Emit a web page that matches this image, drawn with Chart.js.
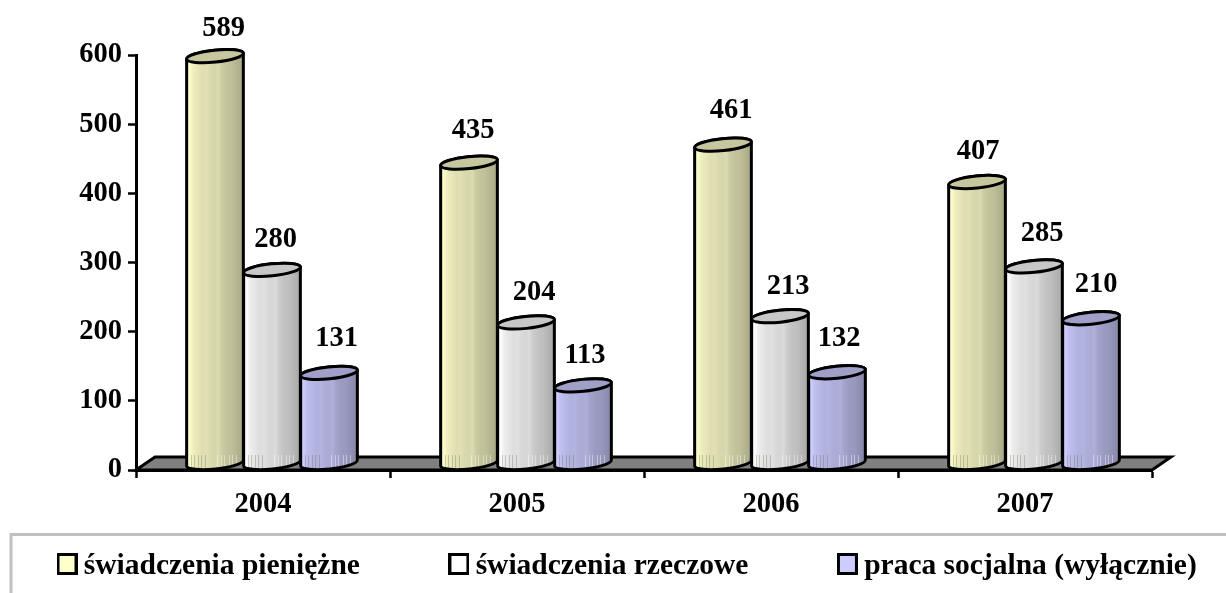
<!DOCTYPE html>
<html><head><meta charset="utf-8">
<style>html,body{margin:0;padding:0;background:#fff}#wrap{width:1226px;height:593px}</style>
<script src="https://cdn.jsdelivr.net/npm/chart.js@4"></script>
</head><body><div id="wrap"><canvas id="c" width="1226" height="593"></canvas></div>
<script>
const categories = ['2004', '2005', '2006', '2007'];
const seriesNames = ['świadczenia pieniężne', 'świadczenia rzeczowe', 'praca socjalna (wyłącznie)'];
const cash = [589, 435, 461, 407];
const inKind = [280, 204, 213, 285];
const socialWork = [131, 113, 132, 210];
const yTicks = [0, 100, 200, 300, 400, 500, 600];

const FONT = '"Liberation Serif","Times New Roman",serif';
const FONT_SIZE = 28.5;
const LEGEND_FONT_SIZE = 29.5;
const lightColors = [[255,255,204],[255,255,255],[204,204,255]];
const hex = c => 'rgb(' + c.join(',') + ')';
const DEPTH_X = 9, DEPTH_Y = 6.5, FLOOR_X = 19, FLOOR_Y = 13;
const RY = 6, ROT = -6 * Math.PI / 180;
const bands = [[0,1],[.06,.99],[.12,.93],[.2,.9],[.28,.87],[.36,.88],[.42,.85],[.5,.84],[.56,.86],[.62,.8],[.72,.76],[.8,.75],[.88,.71],[1,.66]];
const labelNudgeX = [[8.5,3.5,7.5],[4,8,2],[8,8,2],[1,8,5]];
const labelNudgeY = [[4.5,1.5,-2.5],[0,1.5,1.5],[-2.5,1.5,-2.5],[1.5,-1.5,-2.5]];

function shade(c, k) { return hex(c.map(v => Math.round(v * k))); }

function swatch(color) {
  const s = document.createElement('canvas');
  s.width = 21; s.height = 26;
  const x = s.getContext('2d');
  x.fillStyle = color; x.fillRect(1.5, 1.5, 18, 19);
  x.strokeStyle = '#000'; x.lineWidth = 3; x.strokeRect(1.5, 1.5, 18, 19);
  return s;
}

function drawCylinder(ctx, el, color) {
  const cx = el.x + DEPTH_X, top = el.y - DEPTH_Y, base = el.base - DEPTH_Y, rx = el.width / 2;
  const g = ctx.createLinearGradient(cx - rx, 0, cx + rx, 0);
  bands.forEach(([p, k]) => g.addColorStop(p, shade(color, k)));
  const body = new Path2D();
  body.ellipse(cx, base, rx, RY, ROT, 0, Math.PI);
  body.ellipse(cx, top, rx, RY, ROT, Math.PI, Math.PI * 2);
  body.closePath();
  ctx.save();
  ctx.lineWidth = 3; ctx.strokeStyle = '#000'; ctx.lineJoin = 'round';
  ctx.fillStyle = g; ctx.fill(body);
  // faint ribs near the foot of the column
  ctx.save(); ctx.clip(body);
  ctx.lineWidth = 1;
  [.08,.14,.2,.26,.32,.54,.6,.66,.74,.8,.86].forEach(p => {
    ctx.strokeStyle = p < .4 ? 'rgba(90,90,70,.28)' : 'rgba(255,255,255,.4)';
    const x = Math.round(cx - rx + p * 2 * rx) + .5;
    ctx.beginPath(); ctx.moveTo(x, base - 8); ctx.lineTo(x, base + 8); ctx.stroke();
  });
  ctx.restore();
  ctx.stroke(body);
  ctx.beginPath();
  ctx.ellipse(cx, top, rx, RY, ROT, 0, Math.PI * 2);
  ctx.fillStyle = shade(color, .78); ctx.fill(); ctx.stroke();
  ctx.restore();
}

const cylinders = {
  id: 'cylinders',
  beforeDatasetsDraw(chart) {
    const { ctx, chartArea: a } = chart;
    ctx.save();
    ctx.beginPath();
    ctx.moveTo(a.left, a.bottom);
    ctx.lineTo(a.left + FLOOR_X, a.bottom - FLOOR_Y);
    ctx.lineTo(a.right + FLOOR_X, a.bottom - FLOOR_Y);
    ctx.lineTo(a.right, a.bottom);
    ctx.closePath();
    ctx.fillStyle = '#808080'; ctx.fill();
    ctx.lineWidth = 3; ctx.lineJoin = 'miter'; ctx.strokeStyle = '#000'; ctx.stroke();
    ctx.restore();
  },
  beforeDatasetDraw() { return false; },
  afterDatasetsDraw(chart) {
    const { ctx } = chart;
    const n = chart.data.labels.length;
    for (let c = 0; c < n; c++) {
      chart.data.datasets.forEach((ds, i) => {
        drawCylinder(ctx, chart.getDatasetMeta(i).data[c], lightColors[i]);
      });
    }
    ctx.save();
    ctx.font = 'bold ' + FONT_SIZE + 'px ' + FONT;
    ctx.fillStyle = '#000'; ctx.textAlign = 'center'; ctx.textBaseline = 'middle';
    for (let c = 0; c < n; c++) {
      chart.data.datasets.forEach((ds, i) => {
        const el = chart.getDatasetMeta(i).data[c];
        ctx.fillText(String(ds.data[c]), el.x + DEPTH_X + labelNudgeX[c][i], el.y - DEPTH_Y - 31.5 + labelNudgeY[c][i]);
      });
    }
    ctx.restore();
  }
};

const legendFrame = {
  id: 'legendFrame',
  afterLayout(chart) {
    const lg = chart.legend;
    const gap = 97;
    lg.options = {
      display: true, position: 'bottom', align: 'start', rtl: false, textDirection: 'ltr',
      title: { display: false },
      labels: {
        usePointStyle: true, pointStyleWidth: 4, boxWidth: 4, boxHeight: LEGEND_FONT_SIZE, padding: gap, color: '#000',
        font: { family: FONT, size: LEGEND_FONT_SIZE, weight: 'bold' },
        generateLabels: c => Chart.defaults.plugins.legend.labels.generateLabels(c)
      }
    };
    lg.left = 65 - gap;
    lg.right = 4000;
    lg.top = 566 - LEGEND_FONT_SIZE / 2 - gap;
  },
  beforeDraw(chart) {
    const { ctx, width, height } = chart;
    ctx.save();
    ctx.strokeStyle = '#C0C0C0'; ctx.lineWidth = 3;
    ctx.beginPath();
    ctx.moveTo(11, height);
    ctx.lineTo(11, 534.5);
    ctx.lineTo(width, 534.5);
    ctx.stroke();
    ctx.restore();
  }
};

new Chart(document.getElementById('c'), {
  type: 'bar',
  data: {
    labels: categories,
    datasets: seriesNames.map((name, i) => ({
      label: name,
      data: [cash, inKind, socialWork][i],
      backgroundColor: hex(lightColors[i]),
      borderColor: '#000',
      borderWidth: 3,
      pointStyle: swatch(hex(lightColors[i]))
    }))
  },
  plugins: [cylinders, legendFrame],
  options: {
    responsive: false,
    animation: false,
    devicePixelRatio: 1,
    categoryPercentage: 171 / 254,
    barPercentage: 1,
    layout: { padding: { top: 55, right: 74, left: 0, bottom: 0 } },
    plugins: {
      tooltip: { enabled: false },
      legend: {
        position: 'bottom',
        align: 'start',
        labels: {
          usePointStyle: true,
          pointStyleWidth: 4,
          padding: 10,
          color: '#000',
          font: { family: FONT, size: LEGEND_FONT_SIZE, weight: 'bold' }
        }
      }
    },
    scales: {
      x: {
        afterFit: s => { s.height = 593 - 470 - s.chart.legend.height; },
        grid: { drawOnChartArea: false, drawTicks: true, tickLength: 8, tickColor: '#000', tickWidth: 2.5, offset: true },
        border: { color: '#000', width: 3 },
        ticks: { color: '#000', padding: 10, maxRotation: 0, font: { family: FONT, size: FONT_SIZE, weight: 'bold' } }
      },
      y: {
        min: 0, max: 600,
        afterFit: s => { s.width = 136; },
        afterBuildTicks: s => { s.ticks = yTicks.map(v => ({ value: v })); },
        grid: { drawOnChartArea: false, drawTicks: true, tickLength: 8, tickColor: '#000', tickWidth: 2.5 },
        border: { color: '#000', width: 3 },
        ticks: { color: '#000', padding: 6, font: { family: FONT, size: FONT_SIZE, weight: 'bold' } }
      }
    }
  }
});
</script></body></html>
